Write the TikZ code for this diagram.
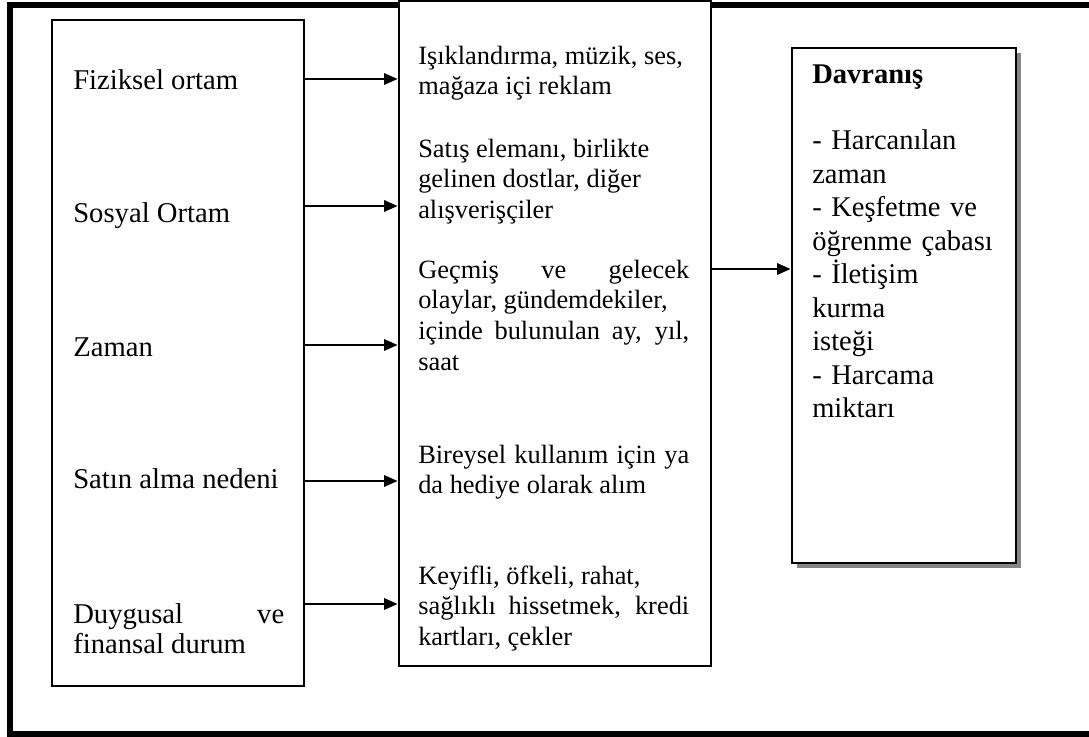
\documentclass[tikz,border=0pt]{standalone}
\usepackage{fontspec}
\setmainfont{Liberation Serif}
\usetikzlibrary{positioning,calc,arrows.meta,shadows}

\begin{document}
\begin{tikzpicture}[x=0.75pt,y=-0.75pt,>={Triangle[length=10pt,width=8.5pt]}]
	\def\px{0.75pt}
	\tikzstyle{frame}=[line width=4.5pt]
	\tikzstyle{box}=[rectangle, draw=black, line width=2.2pt, fill=white, inner sep=0pt]
	\tikzstyle{factor}=[anchor=base west, inner sep=0pt, text width=211*\px, align=justify, font=\fontsize{21.5}{22.5}\selectfont]
	\tikzstyle{detail}=[anchor=base west, inner sep=0pt, text width=271*\px, align=justify, font=\fontsize{19.8}{23}\selectfont]
	\tikzstyle{result}=[anchor=base west, inner sep=0pt, text width=195*\px, align=left, font=\fontsize{21.4}{25.1}\selectfont]
	\tikzstyle{link}=[->, line width=1.5pt]

	\useasboundingbox (0,0) rectangle (1089,736);
	% Draw the outer frame (open on the right)
	\draw[frame] (1092,4.5) -- (9.5,4.5) -- (9.5,733.5) -- (1092,733.5);

	% Draw the three boxes
	\node[box, minimum width=252*\px, minimum height=666*\px] (L) at (178,353) {};
	\node[box, minimum width=312*\px, minimum height=665*\px] (M) at (555,333.5) {};
	\node[box, minimum width=224*\px, minimum height=515*\px,
	  drop shadow={shadow xshift=3.5pt, shadow yshift=-3.5pt, fill=black!48, opacity=1}] (R) at (904,305.5) {};

	% Draw the factors in the left box
	\foreach \name/\y/\txt in {1/89/{Fiziksel ortam}, 2/222/{Sosyal Ortam}, 3/356/{Zaman},
	  4/488/{Satın alma nedeni}, 5/623/{Duygusal ve\linebreak finansal durum}}
	\node[factor] (F-\name) at (73,\y) {\txt};

	% Draw the details in the middle box
	\node[detail] (D-1) at (418,64) {Işıklandırma, müzik, ses,\\ mağaza içi reklam};
	\node[detail] (D-2) at (418,157) {Satış elemanı, birlikte\\ gelinen dostlar, diğer\\ alışverişçiler};
	\node[detail] (D-3) at (418,278) {Geçmiş ve gelecek\linebreak olaylar, gündemdekiler,\\ içinde bulunulan ay, yıl,\linebreak saat};
	\node[detail] (D-4) at (418,463) {Bireysel kullanım için ya\linebreak da hediye olarak alım};
	\node[detail] (D-5) at (418,584) {Keyifli, öfkeli, rahat,\\ sağlıklı hissetmek, kredi\linebreak kartları, çekler};

	% Draw the behaviour list
	\node[result] (B) at (812,83) {\textbf{Davranış}\\[25.1pt]- Harcanılan\\ zaman\\ - Keşfetme ve\\ öğrenme çabası\\ - İletişim\\ kurma\\ isteği\\ - Harcama\\ miktarı};

	% Connect the left box with the middle box
	\foreach \name/\y in {1/79,2/206,3/345,4/481,5/604}
	 \coordinate (a-\name) at (0,\y);
	\foreach \name in {1,...,5}
	 \draw[link] (L.east |- a-\name) -- (M.west |- a-\name);
	% Connect the middle box with the behaviour box
	\coordinate (b) at (0,269);
	\draw[link] (M.east |- b) -- (R.west |- b);
\end{tikzpicture}
\end{document}
